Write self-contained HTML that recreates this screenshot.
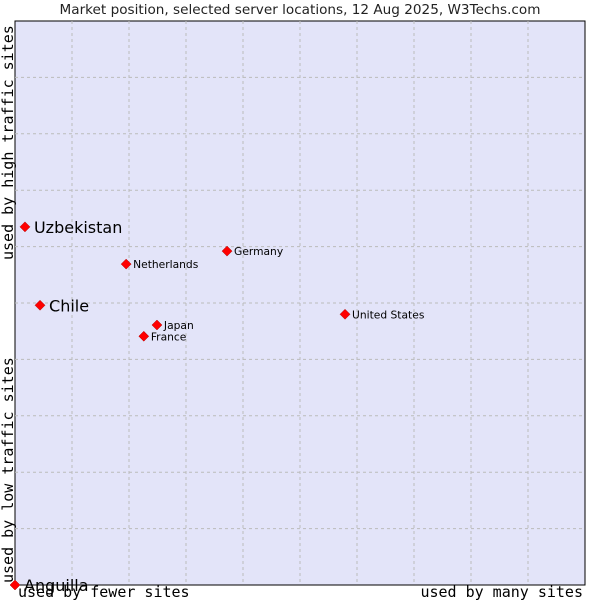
<!DOCTYPE html>
<html><head><meta charset="utf-8"><style>
body{margin:0;background:#fff;width:600px;height:600px;overflow:hidden}
</style></head><body>
<svg id="chart" width="600" height="600" xmlns="http://www.w3.org/2000/svg">
<text x="300" y="14" text-anchor="middle" font-family="DejaVu Sans, sans-serif" font-size="13.6" fill="#222">Market position, selected server locations, 12 Aug 2025, W3Techs.com</text>
<rect x="15" y="21" width="570" height="564" fill="#e3e4f9" stroke="#000" stroke-width="1"/>
<g id="grid"></g>
<g id="points"></g>
<text x="18" y="597" font-family="DejaVu Sans Mono, monospace" font-size="15" fill="#000">used by fewer sites</text>
<text x="583" y="597" text-anchor="end" font-family="DejaVu Sans Mono, monospace" font-size="15" fill="#000">used by many sites</text>
<text transform="translate(13,583) rotate(-90)" font-family="DejaVu Sans Mono, monospace" font-size="15" fill="#000">used by low traffic sites</text>
<text transform="translate(13,260) rotate(-90)" font-family="DejaVu Sans Mono, monospace" font-size="15" fill="#000">used by high traffic sites</text>
</svg>
<script>
const names=["Uzbekistan","Chile","Netherlands","Germany","Japan","France","United States","Anguilla"];
const xVals=[1.75,4.39,19.5,37.2,24.9,22.6,57.9,0];
const yVals=[63.5,49.6,56.9,59.2,46.1,44.1,48.0,0];
const bigLabel=[true,true,false,false,false,false,false,true];
const L=15,T=21,W=570,H=564;
const xs=v=>L+v/100*W, ys=v=>T+H-v/100*H;
const NS="http://www.w3.org/2000/svg";
const grid=document.getElementById('grid');
for(let i=1;i<10;i++){
 const x=L+i*W/10, y=T+i*H/10;
 const a=document.createElementNS(NS,'line');
 a.setAttribute('x1',x);a.setAttribute('x2',x);a.setAttribute('y1',T);a.setAttribute('y2',T+H);
 a.setAttribute('stroke','#bbbbbb');a.setAttribute('stroke-dasharray','3,3');
 
 
 grid.appendChild(a);
 const b=document.createElementNS(NS,'line');
 b.setAttribute('y1',y);b.setAttribute('y2',y);b.setAttribute('x1',L);b.setAttribute('x2',L+W);
 b.setAttribute('stroke','#bbbbbb');b.setAttribute('stroke-dasharray','3,3');
 
 
 grid.appendChild(b);
}
const pts=document.getElementById('points');
names.forEach((n,i)=>{
 const x=xs(xVals[i]), y=ys(yVals[i]);
 const d=document.createElementNS(NS,'polygon');
 d.setAttribute('points',`${x},${y-5} ${x+5},${y} ${x},${y+5} ${x-5},${y}`);
 d.setAttribute('fill','#f00');
 d.setAttribute('stroke','#a00');
 d.setAttribute('stroke-width','0.5');
 
 
 pts.appendChild(d);
 const t=document.createElementNS(NS,'text');
 const big=bigLabel[i];
 t.setAttribute('x',x+(big?9:7));t.setAttribute('y',y+(big?6:4));
 t.setAttribute('font-family','DejaVu Sans, sans-serif');
 t.setAttribute('font-size',big?16:10.7);
 t.setAttribute('fill','#000');
 t.textContent=n;
 
 
 pts.appendChild(t);
});
</script>
</body></html>
